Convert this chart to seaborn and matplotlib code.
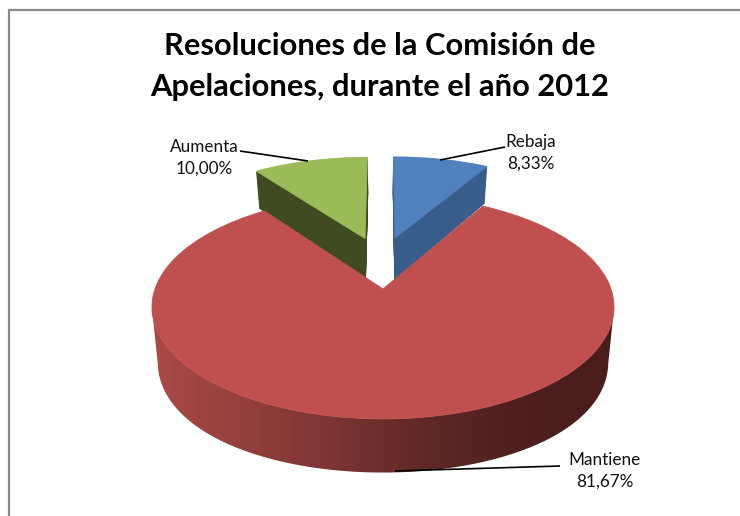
import numpy as np
import matplotlib
matplotlib.use("Agg")
import matplotlib.pyplot as plt
from matplotlib.path import Path
from matplotlib.patches import PathPatch
from matplotlib.transforms import Transform
import seaborn as sns

categories = ["Rebaja", "Mantiene", "Aumenta"]
values = [8.33, 81.67, 10.00]
title_lines = ["Resoluciones de la Comisión de", "Apelaciones, durante el año 2012"]
top_colors = ["#4F81BD", "#BF504D", "#9BBB59"]
side_colors = ["#385D8A", "#8C3836", "#404B20"]
rim_colors = ["#AB4A45", "#93403C", "#7A3432", "#5E2825", "#4E1F1D", "#491D1B"]

CX, CY, A, B, K, DEPTH, SHRINK = 383.0, 289.0, 228.0, 109.0, 0.161, 45.0, 0.025
SIDE_BULGE = 9.0
centers = {"Rebaja": (0.057, 0.506), "Mantiene": (0.0, 0.0), "Aumenta": (-0.085, 0.50)}
label_pos = {"Rebaja": (531, 153), "Mantiene": (605, 471), "Aumenta": (204, 158)}
leaders = {"Rebaja": ((505, 147), (440, 160)),
           "Mantiene": ((560, 466), (395, 471)),
           "Aumenta": ((240, 151), (308, 161))}


class PieProjection(Transform):
    input_dims = output_dims = 2
    is_separable = False
    has_inverse = False

    def __init__(self, drop=0.0):
        super().__init__()
        self.drop = drop

    def transform_non_affine(self, v):
        v = np.asarray(v, dtype=float)
        x, y = v[:, 0], v[:, 1]
        f = 1.0 / (1.0 + K * y)
        s = 1.0 - SHRINK * self.drop / DEPTH
        return np.column_stack([CX + A * x * f * s, CY - (B * y - self.drop) * f])


sns.set_theme(style="white")
plt.rcParams["font.family"] = ["Lato", "DejaVu Sans"]
fig = plt.figure(figsize=(7.4, 5.16), dpi=100, facecolor="white")
ax = fig.add_axes([0, 0, 1, 1])


def draw_layer(name, drop, color):
    idx = categories.index(name)
    wedges, _ = ax.pie(values, startangle=90, counterclock=False, radius=1.0,
                       wedgeprops=dict(linewidth=0.6))
    for i, w in enumerate(wedges):
        if i != idx:
            w.remove()
    w = wedges[idx]
    w.set_center(centers[name])
    w.set_facecolor(color)
    w.set_edgecolor(color)
    w.set_transform(PieProjection(drop) + ax.transData)
    w.set_clip_on(False)
    return w


# exploded slices: bottom-to-top stack gives the cut faces
for name in ["Aumenta", "Rebaja"]:
    i = categories.index(name)
    for d in np.arange(DEPTH, 0, -1.0):
        draw_layer(name, d, side_colors[i])
    draw_layer(name, 0.0, top_colors[i])

# rim of the large slice, shaded from left to right
t = np.radians(np.linspace(190, 350, 200))
circle = np.column_stack([np.cos(t), np.sin(t)])
upper = PieProjection(0.0).transform_non_affine(circle)
lower = PieProjection(DEPTH).transform_non_affine(circle)
lower[:, 1] += SIDE_BULGE * ((lower[:, 0] - CX) / 226.0) ** 2
verts = np.vstack([upper, lower[::-1], upper[:1]])
rim_path = PathPatch(Path(verts), transform=ax.transData, facecolor="none", edgecolor="none")
ax.add_patch(rim_path)
rim_cmap = sns.blend_palette(rim_colors, as_cmap=True)
im = ax.imshow(np.linspace(0, 1, 256)[None, :], cmap=rim_cmap, aspect="auto",
               extent=(150, 618, 480, 190), zorder=1.5)
im.set_clip_path(rim_path)

w = draw_layer("Mantiene", 0.0, top_colors[1])
w.set_zorder(2)

ax.set_aspect("auto")
ax.set_xlim(0, 740)
ax.set_ylim(516, 0)
ax.axis("off")

# chart frame
ax.plot([8.5, 8.5, 740], [516, 9.5, 9.5], color="#8A8A8A", lw=1.6, solid_joinstyle="miter", zorder=0.5)

# title
for line, y in zip(title_lines, [46, 87]):
    ax.text(380, y, line, ha="center", va="center", fontsize=22.2, fontweight="bold", color="black", zorder=5)

# labels with leaders
for name, v in zip(categories, values):
    lx, ly = label_pos[name]
    txt = f"{name}\n{v:.2f}%".replace(".", ",")
    ax.text(lx, ly, txt, ha="center", va="center", fontsize=12.3, color="#111111",
            linespacing=1.42, zorder=5)
    (x0, y0), (x1, y1) = leaders[name]
    ax.plot([x0, x1], [y0, y1], color="black", lw=1.2, zorder=4, solid_capstyle="butt")

fig.savefig("out.png", dpi=100, facecolor="white")
